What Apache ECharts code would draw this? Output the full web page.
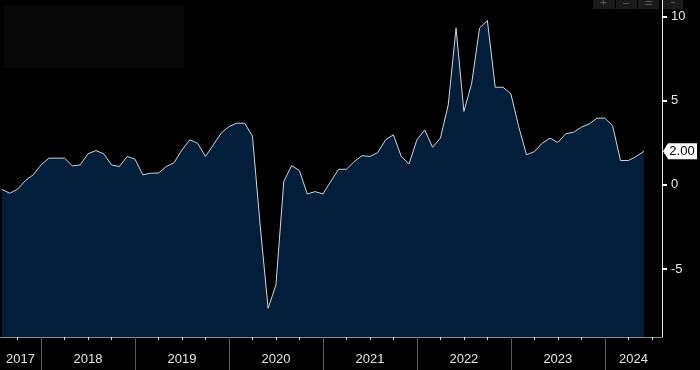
<!DOCTYPE html>
<html>
<head>
<meta charset="utf-8">
<script src="https://cdn.jsdelivr.net/npm/echarts@6/dist/echarts.min.js"></script>
<style>
html,body{margin:0;padding:0;background:#000;}
#chart{width:700px;height:370px;}
</style>
</head>
<body>
<div id="chart"></div>
<script>
// Monthly observations, Aug 2017 - Jun 2024
var months = [
 '2017-08','2017-09','2017-10','2017-11','2017-12',
 '2018-01','2018-02','2018-03','2018-04','2018-05','2018-06','2018-07','2018-08','2018-09','2018-10','2018-11','2018-12',
 '2019-01','2019-02','2019-03','2019-04','2019-05','2019-06','2019-07','2019-08','2019-09','2019-10','2019-11','2019-12',
 '2020-01','2020-02','2020-03','2020-04','2020-05','2020-06','2020-07','2020-08','2020-09','2020-10','2020-11','2020-12',
 '2021-01','2021-02','2021-03','2021-04','2021-05','2021-06','2021-07','2021-08','2021-09','2021-10','2021-11','2021-12',
 '2022-01','2022-02','2022-03','2022-04','2022-05','2022-06','2022-07','2022-08','2022-09','2022-10','2022-11','2022-12',
 '2023-01','2023-02','2023-03','2023-04','2023-05','2023-06','2023-07','2023-08','2023-09','2023-10','2023-11','2023-12',
 '2024-01','2024-02','2024-03','2024-04','2024-05','2024-06'
];
var values = [
 -0.26,-0.5,-0.26,0.26,0.6,
 1.19,1.59,1.59,1.59,1.13,1.19,1.85,2.04,1.85,1.19,1.09,1.69,
 1.53,0.6,0.7,0.7,1.09,1.33,2.08,2.68,2.48,1.69,2.38,3.08,
 3.47,3.67,3.67,2.9,-2.5,-7.34,-5.95,0.2,1.15,0.85,-0.54,-0.4,
 -0.54,0.2,0.93,0.93,1.39,1.74,1.69,1.92,2.68,2.98,1.69,1.25,
 2.68,3.27,2.24,2.78,4.76,9.33,4.37,6.05,9.33,9.78,5.81,5.81,
 5.42,3.47,1.79,1.98,2.48,2.78,2.52,3.04,3.13,3.43,3.63,3.97,
 3.97,3.51,1.45,1.45,1.69,2.00
];
var years = [2017,2018,2019,2020,2021,2022,2023,2024];
var yTicks = [-5,0,5,10];

var BASE_YEAR = 2017;
// visible axis window in months since Jan 2017
var XMIN = 6.76, XMAX = 91.3;
var YMIN = -9.05, YMAX = 11.0;

function monthIndex(s){
  var p = s.split('-');
  return (parseInt(p[0],10) - BASE_YEAR) * 12 + (parseInt(p[1],10) - 1);
}
var seriesData = months.map(function(m, i){ return [monthIndex(m), values[i]]; });

var yearStarts = years.slice(1).map(function(y){ return (y - BASE_YEAR) * 12; });
var yearMids = years.map(function(y){
  var a = Math.max((y - BASE_YEAR) * 12, XMIN);
  var b = Math.min((y - BASE_YEAR + 1) * 12, XMAX);
  return (a + b) / 2;
});
var quarterTicks = [];
for (var q = Math.ceil(XMIN / 3) * 3; q <= XMAX; q += 3) {
  if (q % 12 !== 0) quarterTicks.push(q);
}
var lastVal = values[values.length - 1];

var chart = echarts.init(document.getElementById('chart'), null, {renderer: 'canvas'});
chart.setOption({
  backgroundColor: '#000000',
  animation: false,
  textStyle: {fontFamily: 'Liberation Sans, Arial, sans-serif'},
  grid: {left: 0, right: 38, top: 0, bottom: 33},
  xAxis: [{
    type: 'value', min: XMIN, max: XMAX, position: 'bottom',
    axisLine: {show: true, onZero: false, lineStyle: {color: '#8c8c8c', width: 1}},
    axisTick: {show: true, customValues: quarterTicks, length: 3, inside: false,
      lineStyle: {color: '#e0e0e0', width: 1}},
    axisLabel: {show: false},
    splitLine: {show: false}
  }, {
    type: 'value', min: XMIN, max: XMAX, position: 'bottom',
    axisLine: {show: false, onZero: false},
    axisTick: {show: true, customValues: yearStarts, length: 33,
      lineStyle: {color: '#5c5c5c', width: 1}},
    axisLabel: {show: true, customValues: yearMids, margin: 16, hideOverlap: false,
      color: '#e6e6e6', fontSize: 13,
      formatter: function(v){ return String(Math.floor(v / 12) + BASE_YEAR); }},
    splitLine: {show: false}
  }],
  yAxis: {
    type: 'value', position: 'right', min: YMIN, max: YMAX,
    axisLine: {show: true, onZero: false, lineStyle: {color: '#e8e8e8', width: 1}},
    axisTick: {show: true, customValues: yTicks, length: 5, lineStyle: {color: '#ffffff', width: 2}},
    axisLabel: {show: true, customValues: yTicks, margin: 9, color: '#e6e6e6', fontSize: 13},
    splitLine: {show: false}
  },
  series: [{
    type: 'line',
    xAxisIndex: 0,
    data: seriesData,
    symbol: 'none',
    lineStyle: {color: '#d6d6d6', width: 1},
    areaStyle: {color: '#031e3b', opacity: 1, origin: 'start'},
    markPoint: {
      silent: true,
      symbol: 'path://M0,8 L6,0 L40,0 L40,16 L6,16 Z',
      symbolSize: [34, 16],
      symbolKeepAspect: false,
      symbolOffset: [18, 0],
      itemStyle: {color: '#ffffff'},
      label: {show: true, position: 'inside', color: '#000000', fontSize: 13, offset: [2, 0],
        formatter: function(){ return lastVal.toFixed(2); }},
      data: [{coord: [XMAX, lastVal]}]
    }
  }],
  graphic: [
    {type: 'rect', left: 4, top: 5, shape: {width: 180, height: 63, r: 2},
     style: {fill: '#080808'}, silent: true},
    {type: 'rect', left: 593, top: 0, shape: {width: 22, height: 9}, style: {fill: '#1b1b1b'}},
    {type: 'rect', left: 616, top: 0, shape: {width: 21, height: 9}, style: {fill: '#1b1b1b'}},
    {type: 'rect', left: 638, top: 0, shape: {width: 21, height: 9}, style: {fill: '#1b1b1b'}},
    {type: 'rect', left: 663, top: 0, shape: {width: 20, height: 9}, style: {fill: '#1b1b1b'}},
    {type: 'rect', left: 603, top: 0, shape: {width: 1, height: 5}, style: {fill: '#555'}},
    {type: 'rect', left: 600, top: 2, shape: {width: 7, height: 1}, style: {fill: '#555'}},
    {type: 'rect', left: 623, top: 3, shape: {width: 6, height: 1}, style: {fill: '#555'}},
    {type: 'rect', left: 645, top: 1, shape: {width: 7, height: 1}, style: {fill: '#555'}},
    {type: 'rect', left: 645, top: 4, shape: {width: 7, height: 1}, style: {fill: '#555'}},
    {type: 'rect', left: 671, top: 2, shape: {width: 4, height: 1}, style: {fill: '#555'}}
  ]
});
</script>
</body>
</html>
